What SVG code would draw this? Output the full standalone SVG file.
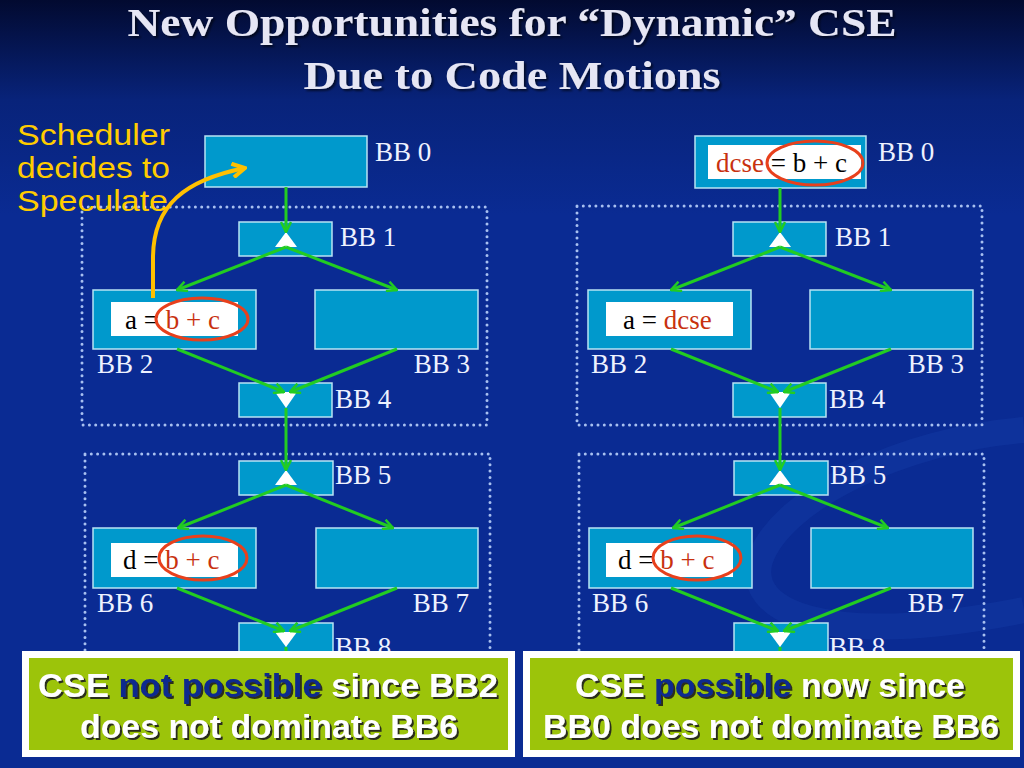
<svg xmlns="http://www.w3.org/2000/svg" width="1024" height="768" viewBox="0 0 1024 768">
<defs>
<linearGradient id="bg" x1="0" y1="0" x2="0" y2="1">
<stop offset="0" stop-color="#020a30"/>
<stop offset="0.13" stop-color="#08237a"/>
<stop offset="0.28" stop-color="#0a2b93"/>
<stop offset="1" stop-color="#0a2b93"/>
</linearGradient>
<marker id="ga" viewBox="0 0 12 12" refX="11" refY="6" markerWidth="12" markerHeight="12" markerUnits="userSpaceOnUse" orient="auto">
<path d="M1,1 L11,6 L1,11" fill="none" stroke="#22cc22" stroke-width="2.5"/>
</marker>
<marker id="ya" viewBox="0 0 14 14" refX="12" refY="7" markerWidth="16" markerHeight="16" markerUnits="userSpaceOnUse" orient="auto">
<path d="M1,1 L12,7 L1,13" fill="none" stroke="#ffc000" stroke-width="3.5"/>
</marker>
<filter id="sh" x="-5%" y="-20%" width="110%" height="140%">
<feDropShadow dx="2" dy="2" stdDeviation="0.6" flood-color="#1a1a1a" flood-opacity="0.9"/>
</filter>
<filter id="tsh" x="-5%" y="-20%" width="110%" height="140%">
<feDropShadow dx="2" dy="2" stdDeviation="1" flood-color="#000000" flood-opacity="0.6"/>
</filter>
</defs>
<style>
.bb{fill:#0099cc;stroke:#b8e4f4;stroke-width:1.5}
.wb{fill:#ffffff}
.lbl{font-family:"Liberation Serif","Times New Roman",serif;font-size:27px;fill:#eef2ff}
.code{font-family:"Liberation Serif","Times New Roman",serif;font-size:27px;fill:#000000}
.red{fill:#c8310f}
.ell{fill:none;stroke:#e8401c;stroke-width:3}
.tri{fill:#ffffff}
.dot{fill:none;stroke:#a8c0f0;stroke-width:3;stroke-dasharray:0 6.3;stroke-linecap:round}
.edge{fill:none;stroke:#22cc22;stroke-width:3;marker-end:url(#ga)}
.note{font-family:"Liberation Sans",Arial,sans-serif;font-size:29px;fill:#ffcc00}
.gtxt{font-family:"Liberation Sans",Arial,sans-serif;font-size:33px;font-weight:bold;fill:#ffffff;text-anchor:middle}
.blue{fill:#0b2a8e}
.title{font-family:"Liberation Serif","Times New Roman",serif;font-size:39px;font-weight:bold;fill:#e6e6f4;text-anchor:middle}
</style>
<rect x="0" y="0" width="1024" height="768" fill="url(#bg)"/>
<path d="M1024,430 C900,440 780,500 760,560 C745,610 820,650 1024,610" fill="none" stroke="#1c47b5" stroke-width="26" opacity="0.25"/>

<g id="title" filter="url(#tsh)">
<text class="title" x="512" y="36" textLength="769" lengthAdjust="spacingAndGlyphs">New Opportunities for “Dynamic” CSE</text>
<text class="title" x="512" y="89" textLength="417" lengthAdjust="spacingAndGlyphs">Due to Code Motions</text>
</g>

<g id="regions">
<rect class="dot" x="82" y="207" width="405" height="218"/>
<rect class="dot" x="85" y="454" width="405" height="260"/>
<rect class="dot" x="577" y="206" width="405" height="219"/>
<rect class="dot" x="579" y="454" width="405" height="260"/>
</g>

<!-- Left diagram -->
<g id="L_BB0"><rect class="bb" x="205" y="136" width="162" height="51"/><text class="lbl" x="375" y="161">BB 0</text></g>
<g id="L_BB1"><rect class="bb" x="239" y="222" width="93" height="34"/><polygon class="tri" points="286,232 275,247 297,247"/><text class="lbl" x="340" y="246">BB 1</text></g>
<g id="L_BB2"><rect class="bb" x="93" y="290" width="163" height="59"/><rect class="wb" x="111" y="302" width="127" height="34"/><text class="code" x="125" y="329">a = <tspan class="red">b + c</tspan></text><ellipse class="ell" cx="202" cy="319" rx="46" ry="21"/><text class="lbl" x="97" y="373">BB 2</text></g>
<g id="L_BB3"><rect class="bb" x="315" y="290" width="163" height="59"/><text class="lbl" x="470" y="373" text-anchor="end">BB 3</text></g>
<g id="L_BB4"><rect class="bb" x="239" y="383" width="93" height="34"/><polygon class="tri" points="275,392 297,392 286,408"/><text class="lbl" x="335" y="408">BB 4</text></g>
<g id="L_BB5"><rect class="bb" x="239" y="461" width="94" height="34"/><polygon class="tri" points="286,470 275,485 297,485"/><text class="lbl" x="335" y="484">BB 5</text></g>
<g id="L_BB6"><rect class="bb" x="93" y="528" width="163" height="60"/><rect class="wb" x="111" y="543" width="127" height="34"/><text class="code" x="123" y="569">d = <tspan class="red">b + c</tspan></text><ellipse class="ell" cx="203" cy="558" rx="44" ry="22"/><text class="lbl" x="97" y="612">BB 6</text></g>
<g id="L_BB7"><rect class="bb" x="316" y="528" width="162" height="60"/><text class="lbl" x="469" y="612" text-anchor="end">BB 7</text></g>
<g id="L_BB8"><rect class="bb" x="239" y="623" width="94" height="40"/><polygon class="tri" points="275,632 297,632 286,647"/><text class="lbl" x="335" y="656">BB 8</text></g>

<!-- Right diagram -->
<g id="R_BB0"><rect class="bb" x="695" y="136" width="171" height="52"/><rect class="wb" x="708" y="145" width="153" height="34"/><text class="code" x="716" y="172"><tspan class="red">dcse</tspan> = b + c</text><ellipse class="ell" cx="815" cy="163" rx="48" ry="22"/><text class="lbl" x="878" y="161">BB 0</text></g>
<g id="R_BB1"><rect class="bb" x="733" y="222" width="93" height="34"/><polygon class="tri" points="780,232 769,247 791,247"/><text class="lbl" x="835" y="246">BB 1</text></g>
<g id="R_BB2"><rect class="bb" x="588" y="290" width="163" height="59"/><rect class="wb" x="606" y="302" width="127" height="34"/><text class="code" x="623" y="329">a = <tspan class="red">dcse</tspan></text><text class="lbl" x="591" y="373">BB 2</text></g>
<g id="R_BB3"><rect class="bb" x="810" y="290" width="163" height="59"/><text class="lbl" x="964" y="373" text-anchor="end">BB 3</text></g>
<g id="R_BB4"><rect class="bb" x="733" y="383" width="93" height="34"/><polygon class="tri" points="769,392 791,392 780,408"/><text class="lbl" x="829" y="408">BB 4</text></g>
<g id="R_BB5"><rect class="bb" x="734" y="461" width="94" height="34"/><polygon class="tri" points="780,470 769,485 791,485"/><text class="lbl" x="830" y="484">BB 5</text></g>
<g id="R_BB6"><rect class="bb" x="589" y="528" width="163" height="60"/><rect class="wb" x="606" y="543" width="127" height="34"/><text class="code" x="618" y="569">d = <tspan class="red">b + c</tspan></text><ellipse class="ell" cx="697" cy="558" rx="44" ry="22"/><text class="lbl" x="592" y="612">BB 6</text></g>
<g id="R_BB7"><rect class="bb" x="811" y="528" width="162" height="60"/><text class="lbl" x="964" y="612" text-anchor="end">BB 7</text></g>
<g id="R_BB8"><rect class="bb" x="734" y="623" width="94" height="40"/><polygon class="tri" points="769,632 791,632 780,647"/><text class="lbl" x="829" y="656">BB 8</text></g>

<g id="connectors">
<path class="edge" d="M286,187 L286,232"/>
<path class="edge" d="M286,247 L177,290"/>
<path class="edge" d="M286,247 L397,290"/>
<path class="edge" d="M177,349 L284,392"/>
<path class="edge" d="M397,349 L290,392"/>
<path class="edge" d="M286,408 L286,470"/>
<path class="edge" d="M286,485 L178,528"/>
<path class="edge" d="M286,485 L393,528"/>
<path class="edge" d="M177,588 L284,631"/>
<path class="edge" d="M397,588 L290,631"/>
<path d="M286,647 L286,660" stroke="#22cc22" stroke-width="3"/>
<path class="edge" d="M780,188 L780,232"/>
<path class="edge" d="M780,247 L671,290"/>
<path class="edge" d="M780,247 L891,290"/>
<path class="edge" d="M671,349 L778,392"/>
<path class="edge" d="M891,349 L784,392"/>
<path class="edge" d="M780,408 L780,470"/>
<path class="edge" d="M780,485 L673,528"/>
<path class="edge" d="M780,485 L888,528"/>
<path class="edge" d="M671,588 L778,631"/>
<path class="edge" d="M891,588 L784,631"/>
<path d="M780,647 L780,660" stroke="#22cc22" stroke-width="3"/>
<path d="M153,298 L153,258 C153,205 185,180 245,168" fill="none" stroke="#ffc000" stroke-width="4" marker-end="url(#ya)"/>
</g>

<g id="scheduler_note">
<text class="note" x="17" y="145" textLength="153" lengthAdjust="spacingAndGlyphs">Scheduler</text>
<text class="note" x="17" y="178" textLength="153" lengthAdjust="spacingAndGlyphs">decides to</text>
<text class="note" x="17" y="211" textLength="151" lengthAdjust="spacingAndGlyphs">Speculate</text>
</g>

<g id="box_left">
<rect x="22" y="651" width="493" height="106" fill="#ffffff"/>
<rect x="29" y="658" width="479" height="92" fill="#9cc40a"/>
<g filter="url(#sh)">
<text class="gtxt" x="268" y="697" textLength="460" lengthAdjust="spacingAndGlyphs">CSE <tspan class="blue">not possible</tspan> since BB2</text>
<text class="gtxt" x="269" y="738" textLength="378" lengthAdjust="spacingAndGlyphs">does not dominate BB6</text>
</g>
</g>
<g id="box_right">
<rect x="523" y="651" width="497" height="106" fill="#ffffff"/>
<rect x="530" y="658" width="483" height="92" fill="#9cc40a"/>
<g filter="url(#sh)">
<text class="gtxt" x="770" y="697" textLength="390" lengthAdjust="spacingAndGlyphs">CSE <tspan class="blue">possible</tspan> now since</text>
<text class="gtxt" x="771" y="738" textLength="456" lengthAdjust="spacingAndGlyphs">BB0 does not dominate BB6</text>
</g>
</g>
</svg>
